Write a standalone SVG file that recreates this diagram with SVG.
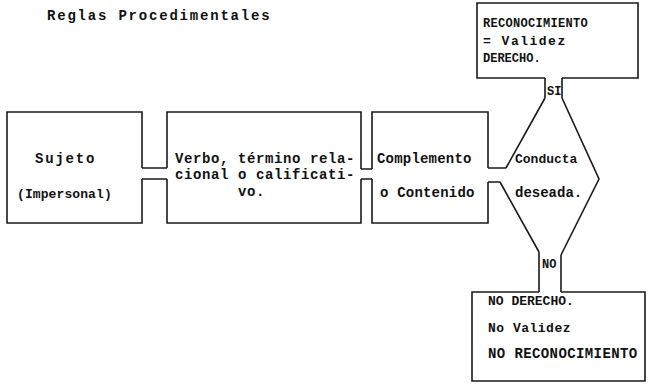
<svg xmlns="http://www.w3.org/2000/svg" width="648" height="384" viewBox="0 0 648 384">
<style>
.ln{fill:none;stroke:#1a1a1a;stroke-width:1.6;stroke-linejoin:miter}
text{font-family:"Liberation Mono","DejaVu Sans Mono",monospace;fill:#111;font-weight:bold}
.pica{font-size:14px;letter-spacing:1.8px}
.t13{font-size:13px}
.t14{font-size:14px}
.t12{font-size:12px}
</style>
<rect width="648" height="384" fill="#fff"/>
<text class="pica" x="47" y="20">Reglas Procedimentales</text>
<g id="connectors">
<path class="ln" d="M142,168 H167 M142,179 H167"/>
<path class="ln" d="M361,169 H372 M361,179 H372"/>
<path class="ln" d="M488,168 H506 M488,182 H500"/>
<path class="ln" d="M545,78 V98 M562,78 V98"/>
<path class="ln" d="M539,252 V292 M561,255 V292"/>
<text class="t12" x="547" y="95">SI</text>
<text class="t12" x="542" y="268">NO</text>
</g>
<g id="sujeto">
<path class="ln" d="M142,168 V112 H7 V223 H142 V179"/>
<text class="pica" x="35" y="163">Sujeto</text>
<text class="t13" x="17" y="198" letter-spacing="0.1">(Impersonal)</text>
</g>
<g id="verbo">
<path class="ln" d="M167,168 V112 H361 V169 M361,179 V223 H167 V179"/>
<text class="t14" x="175" y="163" letter-spacing="0.6">Verbo, término rela-</text>
<text class="t14" x="175" y="179" letter-spacing="0.6">cional o calificati-</text>
<text class="t14" x="238" y="196" letter-spacing="0.6">vo.</text>
</g>
<g id="complemento">
<path class="ln" d="M372,169 V112 H488 V168 M488,182 V223 H372 V179"/>
<text class="t14" x="377" y="163" letter-spacing="0.2">Complemento</text>
<text class="t14" x="380" y="197" letter-spacing="0.2">o Contenido</text>
</g>
<g id="conducta">
<path class="ln" d="M506,168 L545,98 M562,98 L599,179 L561,255 M539,252 L500,182"/>
<text class="t13" x="515" y="163">Conducta</text>
<text class="t14" x="515" y="197">deseada.</text>
</g>
<g id="reconocimiento">
<path class="ln" d="M545,78 H477 V3 H638 V78 H562"/>
<text class="t12" x="483" y="27" letter-spacing="0.3">RECONOCIMIENTO</text>
<text class="t13" x="483" y="45" letter-spacing="1.5">= Validez</text>
<text class="t12" x="483" y="62">DERECHO.</text>
</g>
<g id="no-derecho">
<path class="ln" d="M539,292 H472 V381 H645 V292 H561"/>
<text class="t13" x="488" y="305">NO DERECHO.</text>
<text class="t13" x="488" y="332" letter-spacing="0.5">No Validez</text>
<text class="t14" x="488" y="358" letter-spacing="0.4">NO RECONOCIMIENTO</text>
</g>
</svg>
